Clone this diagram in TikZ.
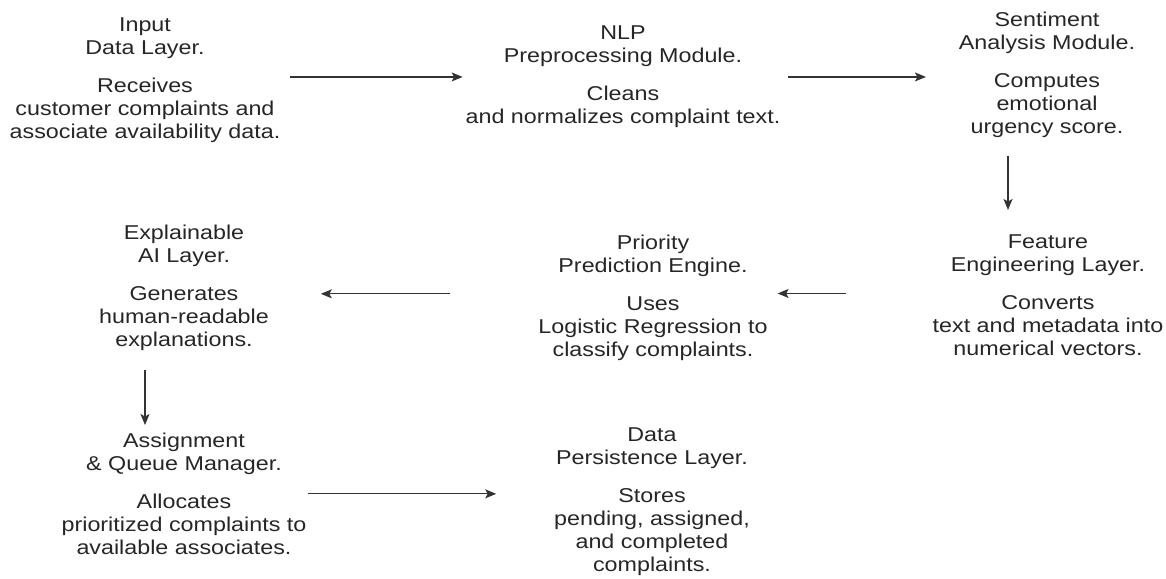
\documentclass[tikz,border=0pt]{standalone}
\usepackage{fontspec}
\setmainfont{Liberation Sans}[FakeStretch=1.165]
\usetikzlibrary{calc,arrows.meta}
\begin{document}
\begin{tikzpicture}[x=1pt,y=-1pt,
  blk/.style={align=center, inner sep=0pt, outer sep=0pt, anchor=north, text=black!85,
    font=\fontsize{20}{23}\selectfont},
  arr/.style={draw=black!80, line width=1.2pt, -{Stealth[length=11pt,width=9pt,inset=2.5pt]}}]
\useasboundingbox (0,0) rectangle (1166,578);
\node[blk] (a) at (145,18) {Input\\Data Layer.\\[15pt]Receives\\customer complaints and\\associate availability data.};
\node[blk] (b) at (623,26) {NLP\\Preprocessing Module.\\[15pt]Cleans\\and normalizes complaint text.};
\node[blk] (c) at (1047,12) {Sentiment\\Analysis Module.\\[15pt]Computes\\emotional\\urgency score.};
\node[blk] (d) at (1048,235) {Feature\\Engineering Layer.\\[15pt]Converts\\text and metadata into\\numerical vectors.};
\node[blk] (e) at (653,235) {Priority\\Prediction Engine.\\[15pt]Uses\\Logistic Regression to\\classify complaints.};
\node[blk] (f) at (184,225) {Explainable\\AI Layer.\\[15pt]Generates\\human-readable\\explanations.};
\node[blk] (g) at (184,433) {Assignment\\\& Queue Manager.\\[15pt]Allocates\\prioritized complaints to\\available associates.};
\node[blk] (h) at (652,428) {Data\\Persistence Layer.\\[15pt]Stores\\pending, assigned,\\and completed\\complaints.};
\draw[arr] ($(a.east |- b.west)+(10,0)$) -- ($(b.west)+(-3,0)$);
\draw[arr] ($(b.east)+(8,0)$) -- ($(c.west |- b.east)+(-33,0)$);
\draw[arr] ($(c.south)+(-39,18)$) -- ($(c.south |- d.north)+(-39,-25)$);
\draw[arr] ($(d.west)+(-87,-2)$) -- ($(e.east |- d.west)+(10,-2)$);
\draw[arr] ($(e.west)+(-88,-4)$) -- ($(f.east |- e.west)+(52,-4)$);
\draw[arr] ($(f.south)+(-39,19)$) -- ($(f.south |- g.north)+(-39,-8)$);
\draw[arr] ($(g.east)+(2,0)$) -- ($(h.west |- g.east)+(-58,0)$);
\end{tikzpicture}
\end{document}
